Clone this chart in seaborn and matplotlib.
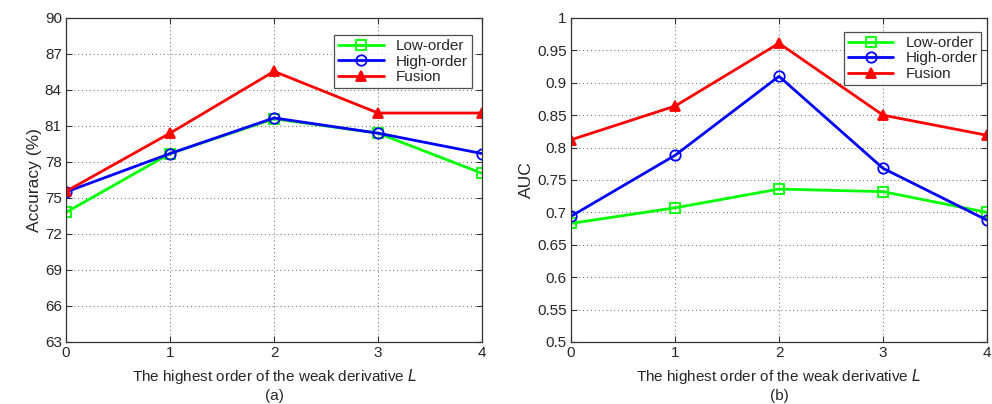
import numpy as np
import pandas as pd
import matplotlib
matplotlib.use("Agg")
import matplotlib.pyplot as plt
import seaborn as sns

orders = [0, 1, 2, 3, 4]
acc_low = [73.8, 78.7, 81.6, 80.4, 77.05]
acc_high = [75.5, 78.7, 81.67, 80.4, 78.7]
acc_fusion = [75.55, 80.4, 85.55, 82.08, 82.08]
auc_low = [0.683, 0.707, 0.736, 0.732, 0.700]
auc_high = [0.694, 0.788, 0.910, 0.768, 0.688]
auc_fusion = [0.812, 0.864, 0.961, 0.850, 0.819]
series_names = ["Low-order", "High-order", "Fusion"]

sns.set_style("ticks")
plt.rcParams['font.family'] = ['Liberation Sans', 'DejaVu Sans']

styles = {
    "Low-order": dict(color="#00ff00", marker="s", mfc="none"),
    "High-order": dict(color="#0000ff", marker="o", mfc="none"),
    "Fusion": dict(color="#ff0000", marker="^", mfc="#ff0000"),
}

fig = plt.figure(figsize=(9.92, 4.04), dpi=100)
ax1 = fig.add_axes([0.0665, 0.1535, 0.4195, 0.802])
ax2 = fig.add_axes([0.5756, 0.1535, 0.4194, 0.802])


def draw(ax, values, ylim, yticks, yticklabels, ylabel, sub, legend_anchor):
    for name, vals in zip(series_names, values):
        st = styles[name]
        sns.lineplot(x=orders, y=vals, ax=ax, color=st["color"], marker=st["marker"],
                     markerfacecolor=st["mfc"], markeredgecolor=st["color"],
                     markeredgewidth=1.3, markersize=7.5, linewidth=2, label=name)
    ax.set_xlim(0, 4)
    ax.set_ylim(*ylim)
    ax.set_xticks(orders)
    ax.set_yticks(yticks)
    ax.set_yticklabels(yticklabels)
    ax.grid(True, linestyle=(0, (1, 3)), color="#666666", linewidth=0.7)
    ax.tick_params(direction="in", length=4, labelsize=11, top=True, right=True,
                   color="#333333", pad=3)
    for s in ax.spines.values():
        s.set_color("#333333")
        s.set_linewidth(0.9)
    ax.set_ylabel(ylabel, fontsize=12.5, labelpad=2)
    ax.set_xlabel("The highest order of the weak derivative $\\mathit{L}$", fontsize=11, labelpad=5)
    box = ax.get_position()
    fig.text((box.x0 + box.x1) / 2, 0.02, sub, ha="center", va="center", fontsize=11)
    leg = ax.legend(loc="upper right", bbox_to_anchor=legend_anchor, fontsize=11,
                    frameon=True, fancybox=False, edgecolor="#222222",
                    handlelength=3, borderpad=0.25, labelspacing=0.1)
    leg.get_frame().set_linewidth(0.9)


draw(ax1, [acc_low, acc_high, acc_fusion], (63, 90), np.arange(63, 91, 3),
     [str(v) for v in range(63, 91, 3)], "Accuracy (%)", "(a)", (0.993, 0.97))
draw(ax2, [auc_low, auc_high, auc_fusion], (0.5, 1.0), np.arange(0.5, 1.001, 0.05),
     ["0.5", "0.55", "0.6", "0.65", "0.7", "0.75", "0.8", "0.85", "0.9", "0.95", "1"],
     "AUC", "(b)", (1.005, 0.98))

fig.savefig("out.png", dpi=100)
